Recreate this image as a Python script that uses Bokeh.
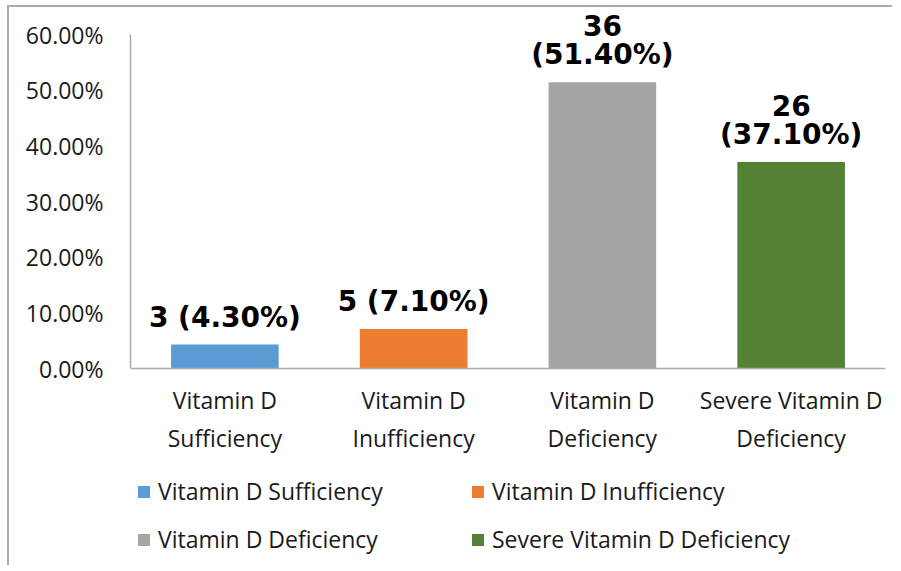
from bokeh.plotting import figure
from bokeh.models import ColumnDataSource, FactorRange, Range1d, FixedTicker, NumeralTickFormatter
from bokeh.core.properties import value
from bokeh.embed import file_html
from bokeh.resources import INLINE

# ---- data ----
categories = ["Vitamin D\nSufficiency", "Vitamin D\nInufficiency", "Vitamin D\nDeficiency", "Severe Vitamin D\nDeficiency"]
legend_names = ["Vitamin D Sufficiency", "Vitamin D Inufficiency", "Vitamin D Deficiency", "Severe Vitamin D Deficiency"]
counts = [3, 5, 36, 26]
percents = [4.30, 7.10, 51.40, 37.10]
label_texts = ["3 (4.30%)", "5 (7.10%)", "36\n(51.40%)", "26\n(37.10%)"]
colors = ["#5B9BD5", "#ED7D31", "#A5A5A5", "#548235"]
y_ticks = [0.0, 0.1, 0.2, 0.3, 0.4, 0.5, 0.6]
y_axis_max = 0.6

src = ColumnDataSource(dict(
    cat=categories,
    name=legend_names,
    val=[v / 100.0 for v in percents],
    color=colors,
    label=label_texts,
))

AX = "#ABABAB"
FONT = "Open Sans"

# layout (pixels inside the figure)
W, H = 885, 560
LEFT, RIGHT = 121, 9
ZERO_Y, TOP_Y = 361, 27          # pixel rows of 0% and 60% inside the figure
k = (ZERO_Y - TOP_Y) / y_axis_max
y_hi = y_axis_max + TOP_Y / k
y_lo = -(H - ZERO_Y) / k

p = figure(
    x_range=FactorRange(factors=categories),
    y_range=Range1d(y_lo, y_hi),
    width=W, height=H,
    output_backend="svg", toolbar_location=None,
    min_border_left=LEFT, min_border_right=RIGHT, min_border_top=0, min_border_bottom=0,
)
p.margin = (5, 0, 0, 7)
p.styles = {"border-top": "2px solid #ABABAB", "border-left": "2px solid #ABABAB"}
p.outline_line_color = None
p.xgrid.visible = False
p.ygrid.visible = False

p.vbar(x="cat", top="val", width=0.57, color="color", line_color=None,
       source=src, legend_field="name")

p.text(x="cat", y="val", text="label", source=src,
       text_font=value("DejaVu Sans"), text_font_style="bold",
       text_font_size="28px", text_color="#000000",
       text_align="center", text_baseline="bottom", text_line_height=0.86,
       y_offset=-11)

# axes
p.yaxis.ticker = FixedTicker(ticks=y_ticks)
p.yaxis.formatter = NumeralTickFormatter(format="0.00%")
p.yaxis.bounds = (0, y_axis_max)
p.xaxis.fixed_location = 0
for ax in (p.xaxis, p.yaxis):
    ax.axis_line_color = AX
    ax.axis_line_width = 1.5
    ax.major_tick_line_color = None
    ax.minor_tick_line_color = None
    ax.major_label_text_font = FONT
    ax.major_label_text_font_size = "23px"
    ax.major_label_text_color = "#1A1A1A"
p.yaxis.major_label_standoff = 21
p.xaxis.major_label_standoff = 9

# legend
lg = p.legend[0]
lg.orientation = "horizontal"
lg.ncols = 2
lg.location = (6, 12)
lg.border_line_color = None
lg.background_fill_alpha = 0
lg.padding = 0
lg.margin = 0
lg.glyph_width = 15
lg.glyph_height = 15
lg.label_standoff = 7
lg.label_height = 24
lg.spacing = 16
lg.label_width = 296
lg.label_text_font = FONT
lg.label_text_font_size = "23px"
lg.label_text_color = "#1A1A1A"

open("out.html", "w").write(file_html(p, INLINE))
